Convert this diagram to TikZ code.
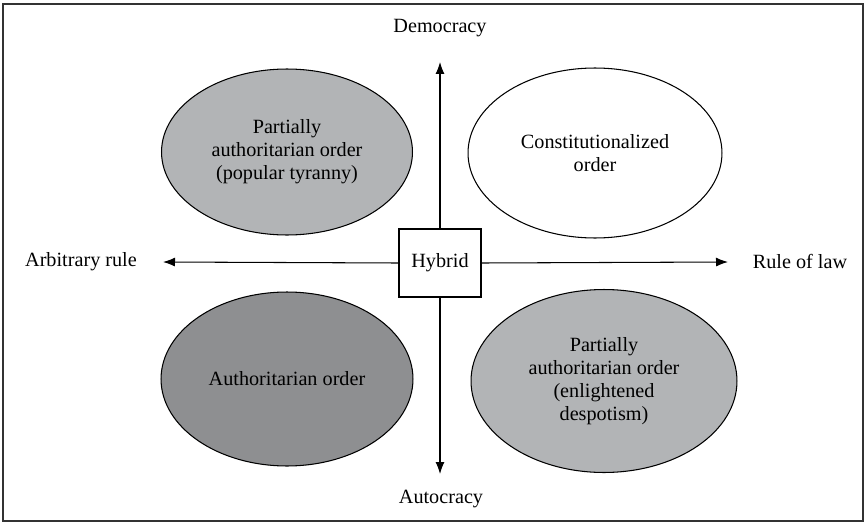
\documentclass[tikz,border=0pt]{standalone}
\usepackage{fontspec}
\setmainfont{Liberation Serif}
\usetikzlibrary{arrows.meta,shapes.geometric}
\definecolor{litegray}{RGB}{178,180,182}
\definecolor{darkgray}{RGB}{142,143,145}
\begin{document}
\begin{tikzpicture}[x=0.02cm,y=-0.02cm,
    font=\fontsize{11.5}{13}\selectfont,
    order/.style={ellipse,draw,line width=0.6pt,align=center,inner sep=0pt},
    axis/.style={line width=0.6pt,-{Latex[length=2.4mm,width=1.8mm]}}]
    \useasboundingbox (0,0) rectangle (866,524);
    \draw[line width=1pt,black!80] (3,4) rectangle (863,521);% the outer frame
    % centre box
    \node[draw,line width=1pt,minimum width=1.64cm,minimum height=1.36cm] (hybrid) at (440,263) {Hybrid};
    % the four orders
    \node[order,fill=litegray,minimum width=5.02cm,minimum height=3.32cm] (tyranny) at (287,152)
      {Partially\\authoritarian order\\(popular tyranny)};
    \node[order,fill=white,minimum width=5.08cm,minimum height=3.4cm] (constit) at (595,153)
      {Constitutionalized\\order};
    \node[order,fill=darkgray,minimum width=5.04cm,minimum height=3.48cm] (author) at (287,379)
      {Authoritarian order};
    \node[order,fill=litegray,minimum width=5.32cm,minimum height=3.66cm] (despot) at (604,381)
      {Partially\\authoritarian order\\(enlightened\\despotism)};
    % axes
    \coordinate (demo) at (440,62);
    \coordinate (auto) at (440,474);
    \coordinate (arbi) at (163,262);
    \coordinate (law) at (728,262);
    \draw[axis] (hybrid.north) -- (demo);
    \draw[axis] (hybrid.south) -- (auto);
    \draw[axis] (hybrid.west) -- (arbi);
    \draw[axis] (hybrid.east) -- (law);
    % axis labels
    \node (demotext) at (440,28) {Democracy};
    \node (autotext) at (441,499) {Autocracy};
    \node (arbitext) at (81,262) {Arbitrary rule};
    \node (lawtext) at (800,261) {Rule of law};
\end{tikzpicture}
\end{document}
